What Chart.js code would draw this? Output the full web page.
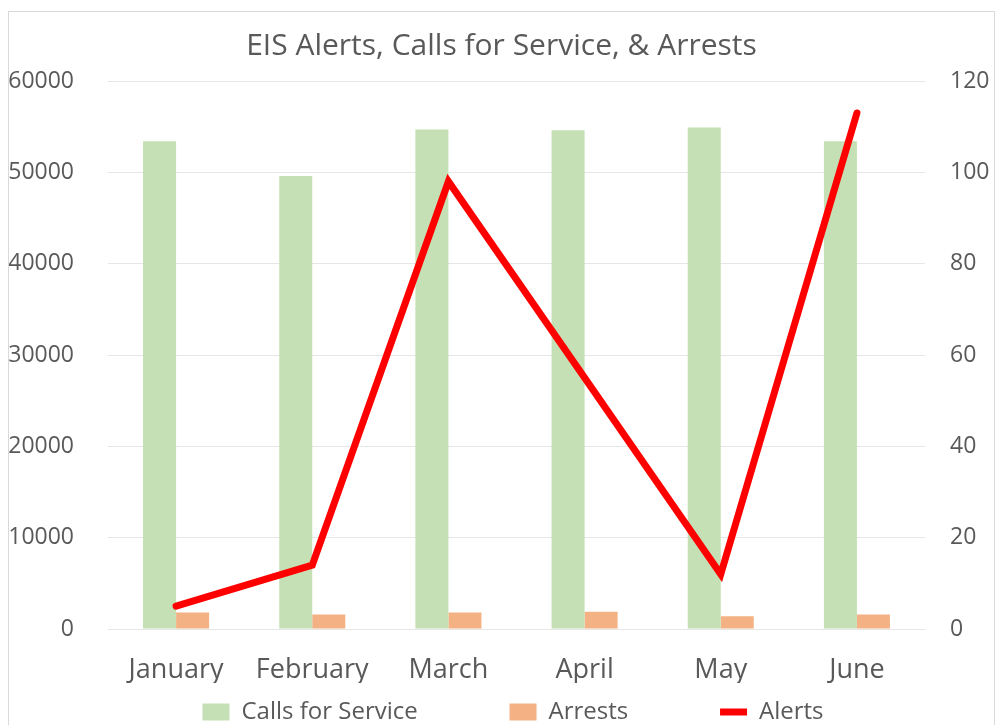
<!DOCTYPE html>
<html>
<head>
<meta charset="utf-8">
<script src="https://cdn.jsdelivr.net/npm/chart.js@4/dist/chart.umd.min.js"></script>
<style>
  html, body { margin: 0; padding: 0; background: #fff; overflow: hidden; }
  #chartBox {
    position: absolute; left: 8px; top: 11px;
    width: 985px; height: 730px;
    border: 1px solid #d9d9d9;
  }
</style>
</head>
<body>
<div id="chartBox"><canvas id="chartCanvas"></canvas></div>
<script>
// data
const months = ['January', 'February', 'March', 'April', 'May', 'June'];
const callsForService = [53400, 49600, 54700, 54600, 54900, 53400];
const arrests = [1800, 1600, 1800, 1900, 1400, 1600];
const alerts = [5, 14, 98, 55, 12, 113];

const textColor = '#595959';
const gridColor = '#e6e6e6';
const fontFamily = '"Open Sans", sans-serif';

// the legend items sit far apart, padding would also push them down, so pad the text instead
const legendGap = '            ';

// legend sits a little right of centre in the original
const legendShift = {
    id: 'legendShift',
    afterLayout: function (c) {
        c.legend.left += 23;
    }
};

const ctx = document.getElementById('chartCanvas').getContext('2d');

const chart = new Chart(ctx, {
    type: 'bar',
    data: {
        labels: months,
        datasets: [{
            label: 'Calls for Service',
            data: callsForService,
            backgroundColor: '#c5e0b4',
            yAxisID: 'y',
            order: 1
        }, {
            label: 'Arrests',
            data: arrests,
            backgroundColor: '#f4b183',
            yAxisID: 'y',
            order: 1
        }, {
            type: 'line',
            label: 'Alerts',
            data: alerts,
            borderColor: '#ff0000',
            backgroundColor: '#ff0000',
            borderWidth: 7,
            borderCapStyle: 'round',
            borderJoinStyle: 'miter',
            pointRadius: 0,
            tension: 0,
            yAxisID: 'y1',
            order: 0
        }]
    },
    plugins: [legendShift],
    options: {
        responsive: true,
        maintainAspectRatio: false,
        animation: false,
        events: [],
        categoryPercentage: 0.485,
        barPercentage: 1,
        layout: {
            padding: { left: 0, right: 0, top: 0, bottom: 8 }
        },
        plugins: {
            title: {
                display: true,
                text: 'EIS Alerts, Calls for Service, & Arrests',
                color: textColor,
                font: { family: fontFamily, size: 30, weight: 'normal' },
                padding: { top: 16, bottom: 17 }
            },
            legend: {
                position: 'bottom',
                labels: {
                    color: textColor,
                    font: { family: fontFamily, size: 24 },
                    usePointStyle: true,
                    pointStyleWidth: 27,
                    boxHeight: 17,
                    padding: 17,
                    generateLabels: function (c) {
                        const n = c.data.datasets.length;
                        return c.data.datasets.map(function (ds, i) {
                            const isLine = ds.type === 'line';
                            return {
                                text: i < n - 1 ? ds.label + legendGap : ds.label,
                                datasetIndex: i,
                                fillStyle: ds.backgroundColor,
                                strokeStyle: isLine ? ds.borderColor : ds.backgroundColor,
                                lineWidth: isLine ? 7 : 0,
                                pointStyle: isLine ? 'line' : 'rect',
                                fontColor: textColor,
                                hidden: false
                            };
                        });
                    }
                }
            },
            tooltip: { enabled: false }
        },
        scales: {
            x: {
                grid: { display: false },
                border: { display: false },
                ticks: {
                    color: textColor,
                    font: { family: fontFamily, size: 27 },
                    padding: 17
                },
                afterFit: function (scale) {
                    scale.paddingLeft = 0;
                    scale.paddingRight = 0;
                    scale.height = 54;
                }
            },
            y: {
                position: 'left',
                min: 0,
                max: 60000,
                grid: { color: gridColor, drawTicks: false },
                border: { display: false },
                ticks: {
                    stepSize: 10000,
                    color: textColor,
                    font: { family: fontFamily, size: 23 },
                    padding: 34,
                    callback: (value) => String(value)
                },
                afterFit: function (scale) {
                    scale.width = 99;
                }
            },
            y1: {
                position: 'right',
                min: 0,
                max: 120,
                grid: { drawOnChartArea: false, drawTicks: false },
                border: { display: false },
                ticks: {
                    stepSize: 20,
                    color: textColor,
                    font: { family: fontFamily, size: 23 },
                    padding: 25
                },
                afterFit: function (scale) {
                    scale.width = 69;
                }
            }
        }
    }
});
</script>
</body>
</html>
